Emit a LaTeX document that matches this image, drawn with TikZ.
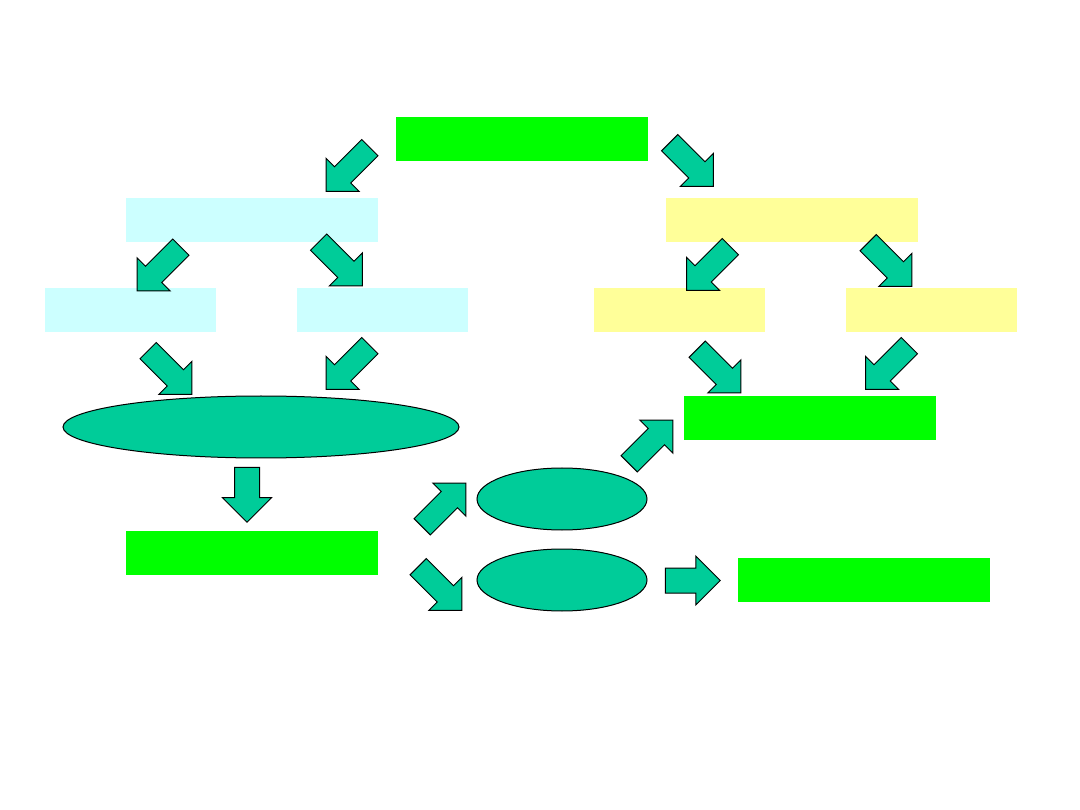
\documentclass[tikz,border=0pt]{standalone}
\usetikzlibrary{shapes.geometric,shapes.arrows}
\definecolor{arrowfill}{HTML}{00CC99}
\definecolor{boxgreen}{HTML}{00FF00}
\definecolor{boxcyan}{HTML}{CCFFFF}
\definecolor{boxyellow}{HTML}{FFFF99}
\tikzset{
  box/.style={rectangle, minimum width=252pt, minimum height=44pt, inner sep=0pt, outer sep=0pt},
  smallbox/.style={rectangle, minimum width=171pt, minimum height=44pt, inner sep=0pt, outer sep=0pt},
  oval/.style={ellipse, draw=black, line width=1pt, fill=arrowfill, inner sep=0pt},
  blockarrow/.style={single arrow, draw=black, line width=1pt, fill=arrowfill,
     inner xsep=0pt, inner ysep=11pt, single arrow head extend=12pt,
     minimum height=62pt, minimum width=0pt, outer sep=0pt},
  straightarrow/.style={blockarrow, inner ysep=12pt, single arrow head extend=12pt, minimum height=55pt}
}
\begin{document}
\begin{tikzpicture}[x=1pt,y=-1pt]
\useasboundingbox (0,0) rectangle (1080,810);
% boxes
\node[box, fill=boxgreen] (top) at (522,139) {};
\node[box, fill=boxcyan] (cyanbig) at (252,220) {};
\node[box, fill=boxyellow] (yellowbig) at (792,220) {};
\node[smallbox, fill=boxcyan] (cyanL) at (130.5,310) {};
\node[smallbox, fill=boxcyan] (cyanR) at (382.5,310) {};
\node[smallbox, fill=boxyellow] (yellowL) at (679.5,310) {};
\node[smallbox, fill=boxyellow] (yellowR) at (931.5,310) {};
\node[box, fill=boxgreen] (greenR) at (810,418) {};
\node[box, fill=boxgreen] (greenBL) at (252,553) {};
\node[box, fill=boxgreen] (greenBR) at (864,580) {};
% ellipses
\node[oval, minimum width=396pt, minimum height=62pt] (bigoval) at (261,427) {};
\node[oval, minimum width=170pt, minimum height=62pt] (ovalU) at (562,499) {};
\node[oval, minimum width=170pt, minimum height=62pt] (ovalD) at (562,580) {};
% block arrows
\node[blockarrow, rotate=225] (a1) at (352,165.5) {};
\node[blockarrow, rotate=-45] (a2) at (687.5,160.5) {};
\node[blockarrow, rotate=225] (a3) at (163,265) {};
\node[blockarrow, rotate=-45] (a4) at (336.5,260) {};
\node[blockarrow, rotate=-45] (a5) at (166,368.5) {};
\node[blockarrow, rotate=225] (a6) at (352,363.5) {};
\node[blockarrow, rotate=225] (a7) at (712.5,264.5) {};
\node[blockarrow, rotate=-45] (a8) at (886,260.5) {};
\node[blockarrow, rotate=-45] (a9) at (715,367) {};
\node[blockarrow, rotate=225] (a10) at (891.5,363.5) {};
\node[blockarrow, rotate=45] (a11) at (647,446) {};
\node[straightarrow, rotate=-90] (a12) at (247,488.5) {};
\node[blockarrow, rotate=45] (a13) at (440,509) {};
\node[blockarrow, rotate=-45] (a14) at (436,584.5) {};
\node[straightarrow] (a15) at (686.5,580.5) {};
\end{tikzpicture}
\end{document}
